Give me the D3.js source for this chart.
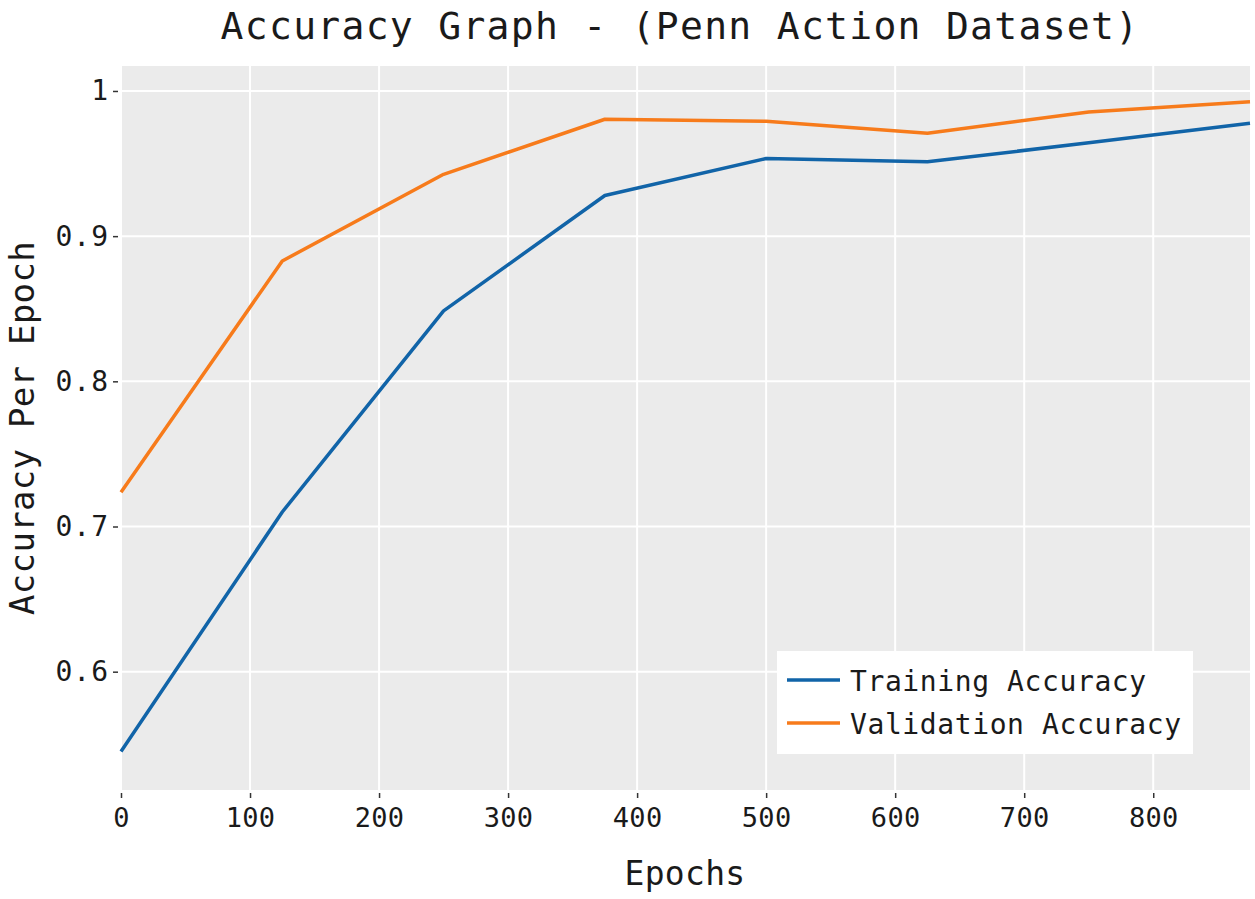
<!DOCTYPE html>
<html>
<head>
<meta charset="utf-8">
<script src="https://cdn.jsdelivr.net/npm/d3@7"></script>
<style>
  html, body { margin: 0; padding: 0; background: #ffffff; }
  svg { display: block; }
  text { font-family: "DejaVu Sans Mono", "Liberation Mono", monospace; fill: #1a1a1a; }
</style>
</head>
<body>
<svg id="chart" width="1255" height="899"></svg>
<script>
const epochs = [0, 125, 250, 375, 500, 625, 750, 875];
const trainingAccuracy = [0.545, 0.710, 0.8485, 0.928, 0.9535, 0.9512, 0.9643, 0.9778];
const validationAccuracy = [0.7236, 0.8829, 0.9426, 0.9805, 0.9791, 0.9709, 0.9855, 0.9926];
const xTicks = [0, 100, 200, 300, 400, 500, 600, 700, 800];
const yTicks = [0.6, 0.7, 0.8, 0.9, 1.0];
const yTickLabels = ["0.6", "0.7", "0.8", "0.9", "1"];
const seriesNames = ["Training Accuracy", "Validation Accuracy"];
const seriesColors = ["#1164a8", "#f77b1b"];

const svg = d3.select("#chart");
const margin = { left: 121, right: 5, top: 66, bottom: 109 };
const W = 1255, H = 899;
const x = d3.scaleLinear().domain([0, 875]).range([margin.left, W - margin.right]);
const y = d3.scaleLinear().domain([0.5185, 1.0172]).range([H - margin.bottom, margin.top]);

// panel background
svg.append("rect")
  .attr("x", x.range()[0]).attr("y", y.range()[1])
  .attr("width", x.range()[1] - x.range()[0])
  .attr("height", y.range()[0] - y.range()[1])
  .attr("fill", "#ebebeb");

// grid
const grid = svg.append("g");
grid.selectAll("line.vx").data(xTicks).join("line")
  .attr("x1", d => x(d)).attr("x2", d => x(d))
  .attr("y1", y.range()[0]).attr("y2", y.range()[1])
  .attr("stroke", "#ffffff").attr("stroke-width", 2);
grid.selectAll("line.hy").data(yTicks).join("line")
  .attr("y1", d => y(d)).attr("y2", d => y(d))
  .attr("x1", x.range()[0]).attr("x2", x.range()[1])
  .attr("stroke", "#ffffff").attr("stroke-width", 2);

// axes
const xAxis = d3.axisBottom(x).tickValues(xTicks).tickSize(5).tickPadding(10).tickFormat(d3.format("d"));
const gx = svg.append("g").attr("transform", `translate(0,${y.range()[0] + 3})`).call(xAxis);
gx.select(".domain").remove();
gx.selectAll(".tick line").attr("stroke", "#333").attr("stroke-width", 1.5);
gx.selectAll(".tick text").attr("font-size", 27).attr("fill", "#1a1a1a")
  .attr("font-family", "DejaVu Sans Mono").attr("letter-spacing", 0.3);

const yAxis = d3.axisLeft(y).tickValues(yTicks).tickSize(5).tickPadding(4)
  .tickFormat((d, i) => yTickLabels[i]);
const gy = svg.append("g").attr("transform", `translate(${x.range()[0] - 3},0)`).call(yAxis);
gy.select(".domain").remove();
gy.selectAll(".tick line").attr("stroke", "#333").attr("stroke-width", 1.5);
gy.selectAll(".tick text").attr("font-size", 28).attr("fill", "#1a1a1a")
  .attr("font-family", "DejaVu Sans Mono").attr("letter-spacing", 1);

// lines
const series = [trainingAccuracy, validationAccuracy];
const line = d3.line().x((d, i) => x(epochs[i])).y(d => y(d));
svg.append("g").selectAll("path").data(series).join("path")
  .attr("d", d => line(d))
  .attr("fill", "none")
  .attr("stroke", (d, i) => seriesColors[i])
  .attr("stroke-width", 3.5)
  .attr("stroke-linejoin", "round");

// title
svg.append("text")
  .attr("x", 680).attr("y", 39)
  .attr("text-anchor", "middle")
  .attr("font-size", 38)
  .attr("letter-spacing", 1.3)
  .text("Accuracy Graph - (Penn Action Dataset)");

// axis titles
svg.append("text")
  .attr("x", 685).attr("y", 885)
  .attr("text-anchor", "middle")
  .attr("font-size", 33)
  .attr("letter-spacing", 0.3)
  .text("Epochs");
svg.append("text")
  .attr("transform", `translate(34,${(y.range()[0] + y.range()[1]) / 2 + 0}) rotate(-90)`)
  .attr("text-anchor", "middle")
  .attr("font-size", 34)
  .attr("letter-spacing", 0.3)
  .text("Accuracy Per Epoch");

// legend
const lg = svg.append("g").attr("transform", "translate(777,651)");
lg.append("rect").attr("width", 416).attr("height", 103).attr("fill", "#ffffff");
seriesNames.forEach((name, i) => {
  const yy = 29 + i * 43;
  lg.append("line").attr("x1", 10).attr("x2", 63).attr("y1", yy).attr("y2", yy)
    .attr("stroke", seriesColors[i]).attr("stroke-width", 3.5);
  lg.append("text").attr("x", 73).attr("y", yy + 11)
    .attr("font-size", 28).attr("letter-spacing", 0.6).text(name);
});
</script>
</body>
</html>
